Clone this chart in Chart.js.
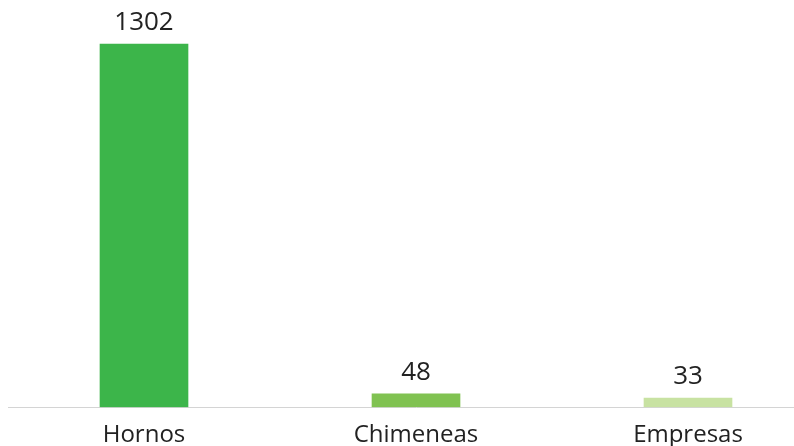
<!DOCTYPE html>
<html lang="es">
<head>
  <meta charset="UTF-8" />
  <title>Hornos, Chimeneas, Empresas</title>
  <script src="https://cdn.jsdelivr.net/npm/chart.js"></script>
  <style>
    html, body {
      margin: 0;
      padding: 0;
      background: #ffffff;
      overflow: hidden;
    }

    #wrap {
      position: relative;
      width: 824px;
      height: 464px;
    }
  </style>
</head>

<body>
  <div id="wrap">
    <canvas id="barChart"></canvas>
  </div>

  <script>
    const categories = ["Hornos", "Chimeneas", "Empresas"];
    const values = [1302, 48, 33];
    const barColors = ["#3cb54a", "#80c251", "#c8e2a2"];

    // value labels above each bar
    const valueLabels = {
      id: "valueLabels",
      afterDatasetsDraw(chart) {
        const ctx = chart.ctx;
        const meta = chart.getDatasetMeta(0);
        ctx.save();
        ctx.font = "26px 'Open Sans'";
        ctx.fillStyle = "#222222";
        ctx.textAlign = "center";
        ctx.textBaseline = "alphabetic";
        meta.data.forEach((bar, i) => {
          ctx.fillText(String(values[i]), bar.x, bar.y - 14);
        });
        ctx.restore();
      }
    };

    const ctx = document.getElementById("barChart").getContext("2d");
    new Chart(ctx, {
      type: "bar",
      data: {
        labels: categories,
        datasets: [{
          data: values,
          backgroundColor: barColors,
          borderWidth: 0,
          barThickness: 88
        }]
      },
      options: {
        responsive: true,
        maintainAspectRatio: false,
        animation: false,
        layout: {
          padding: { left: 8, right: 0, top: 0, bottom: 0 }
        },
        plugins: {
          legend: { display: false },
          tooltip: { enabled: false }
        },
        scales: {
          x: {
            offset: true,
            grid: { display: false, drawTicks: false },
            border: { display: true, color: "#d4d4d4", width: 1 },
            ticks: {
              padding: 14,
              color: "#222222",
              font: { family: "'Open Sans'", size: 24 }
            }
          },
          y: {
            display: false,
            min: 0,
            max: 1460
          }
        }
      },
      plugins: [valueLabels]
    });
  </script>
</body>
</html>
